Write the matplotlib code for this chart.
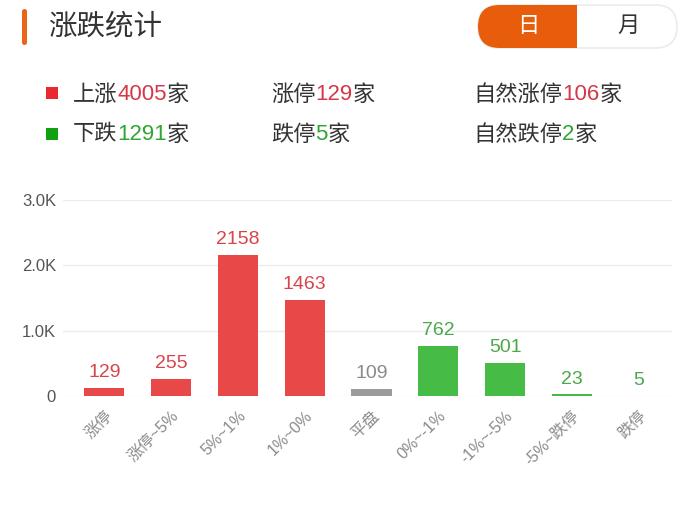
import matplotlib
matplotlib.use("Agg")
import matplotlib.pyplot as plt
from matplotlib.patches import FancyBboxPatch, Rectangle

plt.rcParams['font.family'] = ['Liberation Sans', 'Noto Sans CJK SC', 'DejaVu Sans']

# data
categories = ['涨停', '涨停~5%', '5%~1%', '1%~0%', '平盘',
              '0%~-1%', '-1%~-5%', '-5%~跌停', '跌停']
counts = [129, 255, 2158, 1463, 109, 762, 501, 23, 5]
kinds = ['up', 'up', 'up', 'up', 'flat', 'down', 'down', 'down', 'down']
y_ticks = [0, 1000, 2000, 3000]
y_tick_labels = ['0', '1.0K', '2.0K', '3.0K']

summary_rows = [
    [('上涨', '4005', '家'), ('涨停', '129', '家'), ('自然涨停', '106', '家')],
    [('下跌', '1291', '家'), ('跌停', '5', '家'), ('自然跌停', '2', '家')],
]

bar_col = {'up': '#e84848', 'flat': '#9b9b9b', 'down': '#46bb46'}
lab_col = {'up': '#d8444c', 'flat': '#8a8a8a', 'down': '#4aa84a'}
num_red = '#d4384a'
num_green = '#2fa532'
ORANGE = '#e85d0c'

W, H = 700, 517
fig = plt.figure(figsize=(W / 100, H / 100), dpi=100)
fig.patch.set_facecolor('white')

#######################
## header overlay    ##
#######################
ov = fig.add_axes([0, 0, 1, 1])
ov.set_xlim(0, W)
ov.set_ylim(H, 0)
ov.axis('off')

ov.add_patch(FancyBboxPatch((22, 9), 5, 36, boxstyle='round,pad=0,rounding_size=2.5',
                            facecolor='#e8651a', edgecolor='none'))
ov.text(48, 27, '涨跌统计', fontsize=20.5, color='#333333', va='center', ha='left')

# day / month toggle
pill = FancyBboxPatch((478, 5), 199, 43, boxstyle='round,pad=0,rounding_size=21.5',
                      facecolor='white', edgecolor='#ebebeb', linewidth=1.2)
ov.add_patch(pill)
orange = FancyBboxPatch((478, 5), 199, 43, boxstyle='round,pad=0,rounding_size=21.5',
                        facecolor=ORANGE, edgecolor='none')
ov.add_patch(orange)
clip = Rectangle((470, 0), 107, 60, transform=ov.transData)
orange.set_clip_path(clip)
ov.text(528, 26, '日', fontsize=16, color='white', ha='center', va='center')
ov.text(628, 26, '月', fontsize=16, color='#333333', ha='center', va='center')

# summary legend
ov.add_patch(Rectangle((46, 87), 12, 12, facecolor='#e8292f', edgecolor='none'))
ov.add_patch(Rectangle((46, 128), 12, 12, facecolor='#11a011', edgecolor='none'))

renderer = fig.canvas.get_renderer()
col_x = [73, 271, 473]
row_y = [95, 135]
for r, row in enumerate(summary_rows):
    numc = num_red if r == 0 else num_green
    for c, (pre, num, post) in enumerate(row):
        x = col_x[c]
        for part, colr in ((pre, '#333333'), (num, numc), (post, '#333333')):
            t = ov.text(x, row_y[r], part, fontsize=16, color=colr, ha='left', va='center')
            x = t.get_window_extent(renderer).x1

#######################
## bar chart         ##
#######################
ax = fig.add_axes([63 / W, 1 - 396 / H, (672 - 63) / W, (396 - 200) / H])
xs = list(range(len(categories)))
ax.bar(xs, counts, width=0.6, color=[bar_col[k] for k in kinds], zorder=3)
for x, v, k in zip(xs, counts, kinds):
    ax.annotate(str(v), (x, v), xytext=(0, 5), textcoords='offset points',
                ha='center', va='bottom', fontsize=14, color=lab_col[k])

ax.set_xlim(-0.62, 8.5)
ax.set_ylim(0, 3000)
ax.set_yticks(y_ticks)
ax.set_yticklabels(y_tick_labels, fontsize=12, color='#555555')
ax.set_xticks(xs)
ax.set_xticklabels(categories, rotation=45, ha='right', rotation_mode='anchor',
                   fontsize=11.5, color='#8a8a8a')
ax.tick_params(axis='both', length=0)
ax.tick_params(axis='y', pad=5)
ax.tick_params(axis='x', pad=9)
ax.grid(axis='y', color='#ececec', linewidth=1, zorder=0)
for s in ax.spines.values():
    s.set_visible(False)
ax.set_facecolor('none')

fig.savefig('out.png', dpi=100, facecolor='white')
plt.close()
